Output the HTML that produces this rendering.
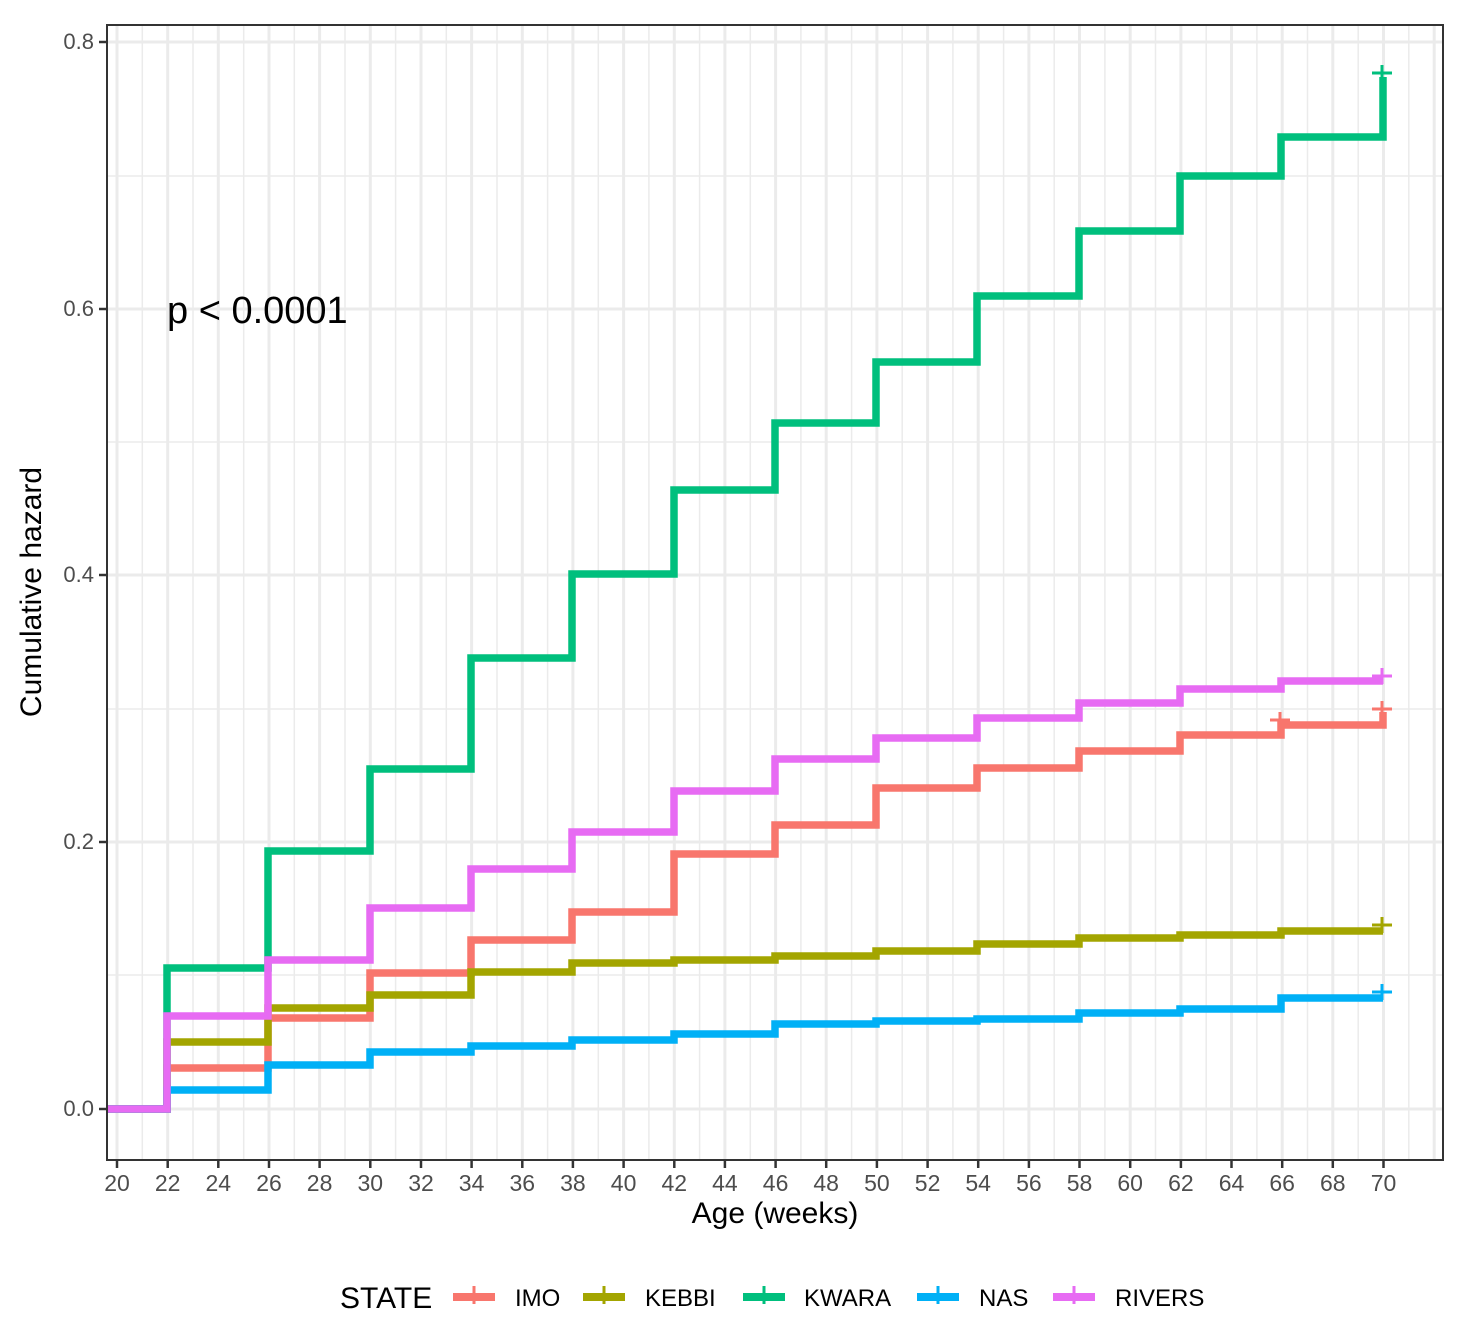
<!DOCTYPE html>
<html><head><meta charset="utf-8"><style>body{margin:0;background:#fff}svg{display:block}text{font-family:"Liberation Sans",sans-serif}</style></head><body>
<svg width="1463" height="1333" viewBox="0 0 1463 1333">
<g stroke="#ebebeb" stroke-width="1.5">
<line x1="107" x2="1443" y1="975" y2="975"/><line x1="107" x2="1443" y1="709" y2="709"/><line x1="107" x2="1443" y1="442" y2="442"/><line x1="107" x2="1443" y1="176" y2="176"/>
<line x1="142.3" x2="142.3" y1="25" y2="1160"/><line x1="193" x2="193" y1="25" y2="1160"/><line x1="243.7" x2="243.7" y1="25" y2="1160"/><line x1="294.3" x2="294.3" y1="25" y2="1160"/><line x1="345" x2="345" y1="25" y2="1160"/><line x1="395.6" x2="395.6" y1="25" y2="1160"/><line x1="446.3" x2="446.3" y1="25" y2="1160"/><line x1="497" x2="497" y1="25" y2="1160"/><line x1="547.6" x2="547.6" y1="25" y2="1160"/><line x1="598.3" x2="598.3" y1="25" y2="1160"/><line x1="648.9" x2="648.9" y1="25" y2="1160"/><line x1="699.6" x2="699.6" y1="25" y2="1160"/><line x1="750.3" x2="750.3" y1="25" y2="1160"/><line x1="800.9" x2="800.9" y1="25" y2="1160"/><line x1="851.6" x2="851.6" y1="25" y2="1160"/><line x1="902.2" x2="902.2" y1="25" y2="1160"/><line x1="952.9" x2="952.9" y1="25" y2="1160"/><line x1="1003.6" x2="1003.6" y1="25" y2="1160"/><line x1="1054.2" x2="1054.2" y1="25" y2="1160"/><line x1="1104.9" x2="1104.9" y1="25" y2="1160"/><line x1="1155.5" x2="1155.5" y1="25" y2="1160"/><line x1="1206.2" x2="1206.2" y1="25" y2="1160"/><line x1="1256.9" x2="1256.9" y1="25" y2="1160"/><line x1="1307.5" x2="1307.5" y1="25" y2="1160"/><line x1="1358.2" x2="1358.2" y1="25" y2="1160"/><line x1="1408.8" x2="1408.8" y1="25" y2="1160"/>
</g>
<g stroke="#ebebeb" stroke-width="3">
<line x1="107" x2="1443" y1="1109" y2="1109"/><line x1="107" x2="1443" y1="842" y2="842"/><line x1="107" x2="1443" y1="575" y2="575"/><line x1="107" x2="1443" y1="309" y2="309"/><line x1="107" x2="1443" y1="42" y2="42"/>
<line x1="117" x2="117" y1="25" y2="1160"/><line x1="167.7" x2="167.7" y1="25" y2="1160"/><line x1="218.3" x2="218.3" y1="25" y2="1160"/><line x1="269" x2="269" y1="25" y2="1160"/><line x1="319.6" x2="319.6" y1="25" y2="1160"/><line x1="370.3" x2="370.3" y1="25" y2="1160"/><line x1="421" x2="421" y1="25" y2="1160"/><line x1="471.6" x2="471.6" y1="25" y2="1160"/><line x1="522.3" x2="522.3" y1="25" y2="1160"/><line x1="572.9" x2="572.9" y1="25" y2="1160"/><line x1="623.6" x2="623.6" y1="25" y2="1160"/><line x1="674.3" x2="674.3" y1="25" y2="1160"/><line x1="724.9" x2="724.9" y1="25" y2="1160"/><line x1="775.6" x2="775.6" y1="25" y2="1160"/><line x1="826.2" x2="826.2" y1="25" y2="1160"/><line x1="876.9" x2="876.9" y1="25" y2="1160"/><line x1="927.6" x2="927.6" y1="25" y2="1160"/><line x1="978.2" x2="978.2" y1="25" y2="1160"/><line x1="1028.9" x2="1028.9" y1="25" y2="1160"/><line x1="1079.5" x2="1079.5" y1="25" y2="1160"/><line x1="1130.2" x2="1130.2" y1="25" y2="1160"/><line x1="1180.9" x2="1180.9" y1="25" y2="1160"/><line x1="1231.5" x2="1231.5" y1="25" y2="1160"/><line x1="1282.2" x2="1282.2" y1="25" y2="1160"/><line x1="1332.8" x2="1332.8" y1="25" y2="1160"/><line x1="1383.5" x2="1383.5" y1="25" y2="1160"/><line x1="1434.2" x2="1434.2" y1="25" y2="1160"/>
</g>
<g fill="none" stroke-width="7.5" stroke-linejoin="miter">
<path stroke="#F8766D" d="M107 1109H167V1068H268V1018H370V973H471V940H572V912H674V854H775V825H876V788H977V768H1079V751H1180V735H1281V725H1383V712"/>
<path stroke="#A3A500" d="M107 1109H167V1042H268V1008H370V995H471V972H572V963H674V960H775V956H876V951H977V944H1079V938H1180V935H1281V931H1383"/>
<path stroke="#00BF7D" d="M107 1109H167V968H268V851H370V769H471V658H572V574H674V490H775V423H876V362H977V296H1079V231H1180V176H1281V137H1383V77"/>
<path stroke="#00B0F6" d="M107 1109H167V1090H268V1065H370V1052H471V1046H572V1040H674V1034H775V1024H876V1021H977V1019H1079V1013H1180V1009H1281V998H1383"/>
<path stroke="#E76BF3" d="M107 1109H167V1016H268V960H370V908H471V869H572V832H674V791H775V759H876V738H977V718H1079V703H1180V689H1281V681H1383"/>
</g>
<g stroke-width="3" fill="none">
<path stroke="#00BF7D" d="M1372 73H1392M1382 65V81"/>
<path stroke="#E76BF3" d="M1372 676H1392M1382 668V684"/>
<path stroke="#F8766D" d="M1372 709H1392M1382 701V717M1270 720H1290M1280 712V728"/>
<path stroke="#A3A500" d="M1372 925H1392M1382 917V933"/>
<path stroke="#00B0F6" d="M1372 992H1392M1382 984V1000"/>
</g>
<rect x="107" y="25" width="1336" height="1135" fill="none" stroke="#333" stroke-width="2"/>
<g stroke="#333" stroke-width="2.5">
<line x1="99" x2="107" y1="1109" y2="1109"/><line x1="99" x2="107" y1="842" y2="842"/><line x1="99" x2="107" y1="575" y2="575"/><line x1="99" x2="107" y1="309" y2="309"/><line x1="99" x2="107" y1="42" y2="42"/>
<line x1="117" x2="117" y1="1160" y2="1168"/><line x1="167.7" x2="167.7" y1="1160" y2="1168"/><line x1="218.3" x2="218.3" y1="1160" y2="1168"/><line x1="269" x2="269" y1="1160" y2="1168"/><line x1="319.6" x2="319.6" y1="1160" y2="1168"/><line x1="370.3" x2="370.3" y1="1160" y2="1168"/><line x1="421" x2="421" y1="1160" y2="1168"/><line x1="471.6" x2="471.6" y1="1160" y2="1168"/><line x1="522.3" x2="522.3" y1="1160" y2="1168"/><line x1="572.9" x2="572.9" y1="1160" y2="1168"/><line x1="623.6" x2="623.6" y1="1160" y2="1168"/><line x1="674.3" x2="674.3" y1="1160" y2="1168"/><line x1="724.9" x2="724.9" y1="1160" y2="1168"/><line x1="775.6" x2="775.6" y1="1160" y2="1168"/><line x1="826.2" x2="826.2" y1="1160" y2="1168"/><line x1="876.9" x2="876.9" y1="1160" y2="1168"/><line x1="927.6" x2="927.6" y1="1160" y2="1168"/><line x1="978.2" x2="978.2" y1="1160" y2="1168"/><line x1="1028.9" x2="1028.9" y1="1160" y2="1168"/><line x1="1079.5" x2="1079.5" y1="1160" y2="1168"/><line x1="1130.2" x2="1130.2" y1="1160" y2="1168"/><line x1="1180.9" x2="1180.9" y1="1160" y2="1168"/><line x1="1231.5" x2="1231.5" y1="1160" y2="1168"/><line x1="1282.2" x2="1282.2" y1="1160" y2="1168"/><line x1="1332.8" x2="1332.8" y1="1160" y2="1168"/><line x1="1383.5" x2="1383.5" y1="1160" y2="1168"/>
</g>
<g font-size="22" fill="#4d4d4d" text-anchor="end">
<text x="94" y="1116">0.0</text><text x="94" y="849">0.2</text><text x="94" y="582">0.4</text><text x="94" y="316">0.6</text><text x="94" y="49">0.8</text>
</g>
<g font-size="23" fill="#4d4d4d" text-anchor="middle">
<text x="117" y="1191">20</text><text x="167.7" y="1191">22</text><text x="218.3" y="1191">24</text><text x="269" y="1191">26</text><text x="319.6" y="1191">28</text><text x="370.3" y="1191">30</text><text x="421" y="1191">32</text><text x="471.6" y="1191">34</text><text x="522.3" y="1191">36</text><text x="572.9" y="1191">38</text><text x="623.6" y="1191">40</text><text x="674.3" y="1191">42</text><text x="724.9" y="1191">44</text><text x="775.6" y="1191">46</text><text x="826.2" y="1191">48</text><text x="876.9" y="1191">50</text><text x="927.6" y="1191">52</text><text x="978.2" y="1191">54</text><text x="1028.9" y="1191">56</text><text x="1079.5" y="1191">58</text><text x="1130.2" y="1191">60</text><text x="1180.9" y="1191">62</text><text x="1231.5" y="1191">64</text><text x="1282.2" y="1191">66</text><text x="1332.8" y="1191">68</text><text x="1383.5" y="1191">70</text>
</g>
<text x="775" y="1223" font-size="30" text-anchor="middle" fill="#000">Age (weeks)</text>
<text transform="translate(41 592) rotate(-90)" font-size="30" text-anchor="middle" fill="#000">Cumulative hazard</text>
<text x="167" y="323" font-size="38" fill="#000">p &lt; 0.0001</text>
<text x="340" y="1308" font-size="30" fill="#000">STATE</text>
<g stroke-width="8">
<line x1="453" x2="495" y1="1297" y2="1297" stroke="#F8766D"/>
<line x1="583" x2="625" y1="1297" y2="1297" stroke="#A3A500"/>
<line x1="743" x2="785" y1="1297" y2="1297" stroke="#00BF7D"/>
<line x1="917" x2="959" y1="1297" y2="1297" stroke="#00B0F6"/>
<line x1="1053" x2="1095" y1="1297" y2="1297" stroke="#E76BF3"/>
</g>
<g stroke-width="3">
<line x1="474" x2="474" y1="1286" y2="1304" stroke="#F8766D"/>
<line x1="604" x2="604" y1="1286" y2="1304" stroke="#A3A500"/>
<line x1="764" x2="764" y1="1286" y2="1304" stroke="#00BF7D"/>
<line x1="938" x2="938" y1="1286" y2="1304" stroke="#00B0F6"/>
<line x1="1074" x2="1074" y1="1286" y2="1304" stroke="#E76BF3"/>
</g>
<g font-size="24" fill="#000">
<text x="515" y="1306">IMO</text><text x="645" y="1306">KEBBI</text><text x="804" y="1306">KWARA</text><text x="979" y="1306">NAS</text><text x="1115" y="1306">RIVERS</text>
</g>
</svg>
</body></html>
